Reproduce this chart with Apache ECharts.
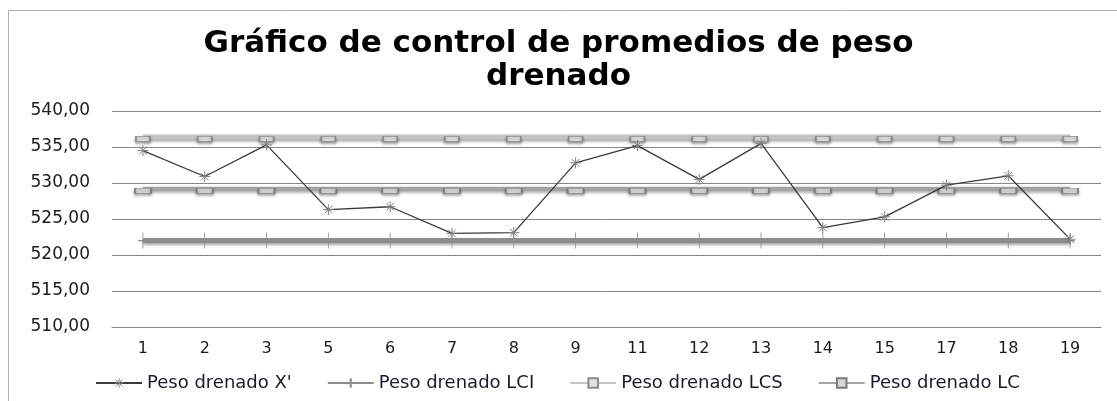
<!DOCTYPE html>
<html>
<head>
<meta charset="utf-8">
<script src="https://cdn.jsdelivr.net/npm/echarts@6/dist/echarts.min.js"></script>
<style>
  html, body { margin: 0; padding: 0; background: #fff; }
  #main { width: 1117px; height: 401px; }
</style>
</head>
<body>
<div id="main"></div>
<script>
// categorías (muestras)
var muestras = ['1', '2', '3', '5', '6', '7', '8', '9', '11', '12', '13', '14', '15', '17', '18', '19'];
// promedios de peso drenado
var pesoX = [534.5, 530.9, 535.3, 526.3, 526.7, 523.0, 523.1, 532.8, 535.2, 530.5, 535.5, 523.8, 525.3, 529.7, 531.0, 522.2];
// limites de control
var valorLCI = 522.0;
var valorLCS = 536.4;
var valorLC = 529.2;
var pesoLCI = muestras.map(function () { return valorLCI; });
var pesoLCS = muestras.map(function () { return valorLCS; });
var pesoLC = muestras.map(function () { return valorLC; });

var fuente = 'DejaVu Sans';
var sombra = { shadowBlur: 3, shadowColor: 'rgba(0,0,0,0.35)', shadowOffsetY: 2 };
var asterisco = 'path://M5,0L5,10M0,5L10,5M1.5,1.5L8.5,8.5M8.5,1.5L1.5,8.5';

var myChart = echarts.init(document.getElementById('main'));
myChart.setOption({
    animation: false,
    title: {
        text: 'Gráfico de control de promedios de peso\ndrenado',
        left: 'center',
        top: 22,
        textStyle: { fontFamily: fuente, fontWeight: 'bold', fontSize: 31, lineHeight: 33, color: '#000' }
    },
    graphic: [{
        type: 'rect',
        shape: { x: 8.5, y: 10.5, width: 1200, height: 500 },
        style: { fill: 'none', stroke: '#b0b0b0', lineWidth: 1 },
        silent: true
    }],
    legend: {
        top: 369,
        left: 90,
        itemWidth: 46,
        itemHeight: 12,
        itemGap: 35,
        textStyle: { fontFamily: fuente, fontSize: 18, color: '#1a1a2e' },
        data: [
            { name: "Peso drenado X'", itemStyle: { color: '#7f7f7f', borderColor: '#7f7f7f', borderWidth: 1 } },
            'Peso drenado LCI', 'Peso drenado LCS', 'Peso drenado LC'
        ]
    },
    grid: { left: 112, right: 16, top: 111, bottom: 74 },
    xAxis: {
        type: 'category',
        data: muestras,
        boundaryGap: true,
        axisLine: { lineStyle: { color: '#868686' } },
        axisTick: { show: false },
        axisLabel: { fontFamily: fuente, fontSize: 16, color: '#1a1a1a', margin: 14 }
    },
    yAxis: {
        type: 'value',
        min: 510,
        max: 540,
        interval: 5,
        axisLine: { show: false },
        axisTick: { show: false },
        splitLine: { lineStyle: { color: '#868686', width: 1 } },
        axisLabel: {
            fontFamily: fuente, fontSize: 17, color: '#1a1a1a', margin: 22,
            formatter: function (v) { return v.toFixed(2).replace('.', ','); }
        }
    },
    series: [
        {
            name: 'Peso drenado LCI',
            type: 'line',
            data: pesoLCI,
            z: 2,
            symbol: 'path://M5,0L5,16M0,8L10,8',
            symbolSize: [10, 16],
            itemStyle: { color: '#8c8c8c', borderColor: '#8c8c8c', borderWidth: 1 },
            lineStyle: Object.assign({ color: '#8c8c8c', width: 5 }, sombra)
        },
        {
            name: 'Peso drenado LCS',
            type: 'line',
            data: pesoLCS,
            z: 2,
            symbol: 'rect',
            symbolSize: [14, 5],
            symbolOffset: [0, 2],
            itemStyle: Object.assign({ color: '#e2e2e2', borderColor: '#8a8a8a', borderWidth: 1 }, sombra),
            lineStyle: Object.assign({ color: '#c4c4c4', width: 5 }, sombra)
        },
        {
            name: 'Peso drenado LC',
            type: 'line',
            data: pesoLC,
            z: 2,
            symbol: 'rect',
            symbolSize: [16, 5],
            symbolOffset: [0, 2],
            itemStyle: Object.assign({ color: '#d6d6d6', borderColor: '#7a7a7a', borderWidth: 1 }, sombra),
            lineStyle: Object.assign({ color: '#a3a3a3', width: 4 }, sombra)
        },
        {
            name: "Peso drenado X'",
            type: 'line',
            data: pesoX,
            z: 5,
            symbol: asterisco,
            symbolSize: 11,
            itemStyle: { color: '#7f7f7f', borderColor: '#7f7f7f', borderWidth: 1 },
            lineStyle: { color: '#3a3a3a', width: 1.3 }
        }
    ]
});
</script>
</body>
</html>
